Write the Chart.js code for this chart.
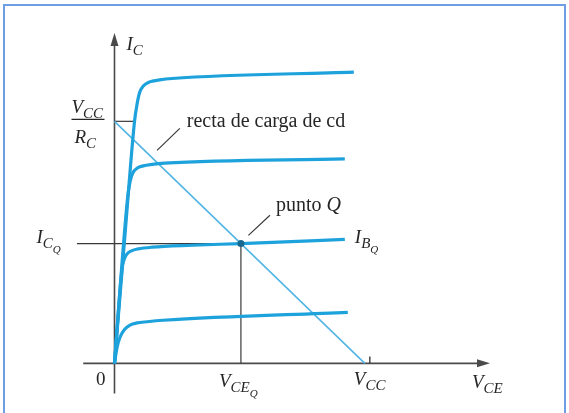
<!DOCTYPE html>
<html>
<head>
<meta charset="utf-8">
<script src="https://cdn.jsdelivr.net/npm/chart.js@4/dist/chart.umd.min.js"></script>
<style>
  html, body { margin: 0; padding: 0; background: #fff; }
  #wrap { position: relative; width: 569px; height: 413px; overflow: hidden; background: #fff; }
  #frame { position: absolute; left: 3px; top: 4px; width: 563px; height: 420px;
           border: 2px solid #6e9fe2; border-bottom: none; box-sizing: border-box; pointer-events: none; }
  canvas { position: absolute; left: 0; top: 0; }
</style>
</head>
<body>
<div id="wrap">
  <canvas id="chart" width="569" height="413"></canvas>
  <div id="frame"></div>
</div>
<script>
// Supply and operating point (arbitrary units on both axes)
const VCC = 10;        // V_CC on the V_CE axis
const IC_SAT = 10;     // V_CC / R_C on the I_C axis
const VCE_Q = 5.05;
const IC_Q = 4.95;

// Axis extents
const X_MIN = -1.25, X_MAX = 15;
const Y_MIN = -1.25, Y_MAX = 13.65;

// Collector characteristics, one curve per base current (V_CE, I_C)
const ib4V = [0, 0.45, 0.80, 0.90, 1.00, 1.15, 1.40, 1.80, 2.30, 9.56];
const ib4I = [0, 5.70, 10.00, 10.70, 11.18, 11.46, 11.63, 11.71, 11.77, 12.03];

const ib3V = [0, 0.52, 0.62, 0.74, 0.90, 1.15, 1.50, 2.00, 9.20];
const ib3I = [0, 6.80, 7.50, 7.88, 8.06, 8.16, 8.22, 8.27, 8.45];

const ibQV = [0, 0.30, 0.38, 0.50, 0.68, 0.95, 1.50, 3.10, VCE_Q, 9.20];
const ibQI = [0, 3.90, 4.28, 4.52, 4.65, 4.73, 4.80, 4.88, IC_Q, 5.12];

const ib1V = [0, 0.10, 0.22, 0.40, 0.62, 0.90, 1.30, 1.94, 9.32];
const ib1I = [0, 0.65, 1.08, 1.40, 1.58, 1.67, 1.72, 1.78, 2.11];

// DC load line end points
const loadV = [0, VCC];
const loadI = [IC_SAT, 0];

// Leader lines for the annotations
const loadLeaderV = [1.70, 2.61];
const loadLeaderI = [8.80, 9.71];
const qLeaderV = [5.35, 6.21];
const qLeaderI = [5.29, 6.12];

const zip = (xs, ys) => xs.map((x, i) => ({ x: x, y: ys[i] }));

const CURVE = '#1ea2dc';
const LOAD = '#52b5e4';
const GUIDE = '#3a3a3a';
const AXIS = '#4a4a4a';
const TEXT = '#262626';

function curve(v, i) {
  return { data: zip(v, i), borderColor: CURVE, borderWidth: 3.2, pointRadius: 0,
           showLine: true, cubicInterpolationMode: 'monotone', fill: false, clip: false };
}
function straight(v, i, color, w) {
  return { data: zip(v, i), borderColor: color, borderWidth: w, pointRadius: 0,
           showLine: true, tension: 0, fill: false, clip: false };
}

// Axes with arrowheads, drawn under the curves
const axesPlugin = {
  id: 'axes',
  beforeDatasetsDraw(chart) {
    const { ctx, scales: { x, y } } = chart;
    const x0 = x.getPixelForValue(0), y0 = y.getPixelForValue(0);
    const xl = x.getPixelForValue(X_MIN), xr = x.getPixelForValue(X_MAX);
    const yb = y.getPixelForValue(Y_MIN), yt = y.getPixelForValue(Y_MAX);
    ctx.save();
    ctx.strokeStyle = AXIS; ctx.fillStyle = AXIS; ctx.lineWidth = 1.6;
    ctx.beginPath();
    ctx.moveTo(xl, y0); ctx.lineTo(xr - 8, y0);
    ctx.moveTo(x0, yb); ctx.lineTo(x0, yt + 8);
    ctx.stroke();
    ctx.beginPath();
    ctx.moveTo(xr, y0); ctx.lineTo(xr - 13, y0 - 4); ctx.lineTo(xr - 13, y0 + 4); ctx.closePath();
    ctx.fill();
    ctx.beginPath();
    ctx.moveTo(x0, yt); ctx.lineTo(x0 - 4, yt + 13); ctx.lineTo(x0 + 4, yt + 13); ctx.closePath();
    ctx.fill();
    ctx.restore();
  }
};

// Symbol with subscript and optional second-level subscript
function sym(ctx, x, y, main, sub, sub2) {
  ctx.font = 'italic 19px "Liberation Serif", serif';
  ctx.fillText(main, x, y);
  let cx = x + ctx.measureText(main).width;
  if (sub) {
    ctx.font = 'italic 15px "Liberation Serif", serif';
    ctx.fillText(sub, cx, y + 5);
    cx += ctx.measureText(sub).width;
  }
  if (sub2) {
    ctx.font = 'italic 11px "Liberation Serif", serif';
    ctx.fillText(sub2, cx, y + 10);
  }
}

const labelsPlugin = {
  id: 'labels',
  afterDraw(chart) {
    const { ctx, scales: { x, y } } = chart;
    const px = v => x.getPixelForValue(v), py = v => y.getPixelForValue(v);
    ctx.save();
    ctx.fillStyle = TEXT; ctx.strokeStyle = TEXT;
    ctx.textBaseline = 'alphabetic'; ctx.textAlign = 'left';

    // I_C axis title
    sym(ctx, px(0) + 12, py(Y_MAX) + 17, 'I', 'C');
    // V_CE axis title
    sym(ctx, px(X_MAX) - 18, py(0) + 25, 'V', 'CE');

    // V_CC / R_C fraction
    const fy = py(IC_SAT) - 2;
    ctx.lineWidth = 1.2;
    ctx.beginPath(); ctx.moveTo(px(0) - 43, fy); ctx.lineTo(px(0) - 10, fy); ctx.stroke();
    sym(ctx, px(0) - 43, fy - 6, 'V', 'CC');
    sym(ctx, px(0) - 40, fy + 24, 'R', 'C');

    // I_CQ and I_BQ
    sym(ctx, px(0) - 78, py(IC_Q) - 1, 'I', 'C', 'Q');
    sym(ctx, px(9.2) + 10, py(IC_Q) - 1, 'I', 'B', 'Q');

    // Horizontal axis values
    ctx.font = '19px "Liberation Serif", serif';
    ctx.textAlign = 'right';
    ctx.fillText('0', px(0) - 9, py(0) + 22);
    ctx.textAlign = 'left';
    sym(ctx, px(VCE_Q) - 22, py(0) + 24, 'V', 'CE', 'Q');
    sym(ctx, px(VCC) - 11, py(0) + 22, 'V', 'CC');

    // Annotations
    ctx.font = '20px "Liberation Serif", serif';
    ctx.fillText('recta de carga de cd', px(loadLeaderV[1]) + 7, py(loadLeaderI[1]) - 1);
    const qx = px(qLeaderV[1]) + 6, qy = py(qLeaderI[1]) - 4;
    ctx.fillText('punto ', qx, qy);
    const w = ctx.measureText('punto ').width;
    ctx.font = 'italic 20px "Liberation Serif", serif';
    ctx.fillText('Q', qx + w, qy);
    ctx.restore();
  }
};

new Chart(document.getElementById('chart'), {
  type: 'scatter',
  data: {
    datasets: [
      { data: [{ x: VCE_Q, y: IC_Q }], pointRadius: 3.5, pointBackgroundColor: '#17698f',
        pointBorderWidth: 0, showLine: false, clip: false },
      curve(ib4V, ib4I),
      curve(ib3V, ib3I),
      curve(ibQV, ibQI),
      curve(ib1V, ib1I),
      straight(loadV, loadI, LOAD, 1.6),
      straight([0, 0.76], [IC_SAT, IC_SAT], GUIDE, 1.2),
      straight([-1.5, VCE_Q], [IC_Q, IC_Q], GUIDE, 1.2),
      straight([VCE_Q, VCE_Q], [IC_Q, 0], GUIDE, 1.2),
      straight([VCC + 0.2, VCC + 0.2], [0, 0.28], GUIDE, 1.4),
      straight(loadLeaderV, loadLeaderI, GUIDE, 1.2),
      straight(qLeaderV, qLeaderI, GUIDE, 1.2)
    ]
  },
  options: {
    responsive: false,
    animation: false,
    events: [],
    layout: { padding: { left: 83.2, right: 79, top: 33, bottom: 19.4 } },
    plugins: { legend: { display: false }, tooltip: { enabled: false } },
    scales: {
      x: { type: 'linear', min: X_MIN, max: X_MAX, display: false },
      y: { type: 'linear', min: Y_MIN, max: Y_MAX, display: false }
    }
  },
  plugins: [axesPlugin, labelsPlugin]
});
</script>
</body>
</html>
